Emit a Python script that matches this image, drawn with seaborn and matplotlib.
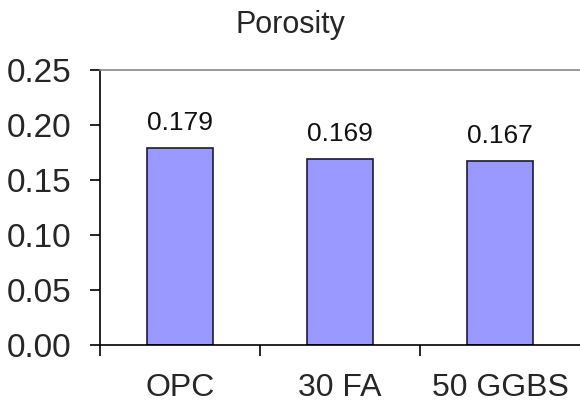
import matplotlib
matplotlib.use("Agg")
import matplotlib.pyplot as plt
import seaborn as sns
import pandas as pd
from matplotlib.ticker import FixedLocator

categories = ["OPC", "30 FA", "50 GGBS"]
porosity = [0.179, 0.169, 0.167]
bar_labels = ["0.179", "0.169", "0.167"]
yticks = [0.00, 0.05, 0.10, 0.15, 0.20, 0.25]

sns.set_style("white")
plt.rcParams["font.family"] = ["Liberation Sans", "DejaVu Sans"]

df = pd.DataFrame({"cat": categories, "val": porosity})

fig = plt.figure(figsize=(5.8, 4.11), dpi=100)
ax = fig.add_axes([0.1724, 0.1606, 0.8276, 0.6691])

sns.barplot(data=df, x="cat", y="val", ax=ax, color="#9999FF",
            saturation=1, width=0.41, edgecolor="#1a1a3a", linewidth=1.2)

ax.set_ylim(0, 0.25)
ax.set_xlim(-0.5, 2.5)
ax.set_yticks(yticks)
ax.set_yticklabels([f"{v:.2f}" for v in yticks], fontsize=24)
ax.set_xticks(range(len(categories)))
ax.set_xticklabels(categories, fontsize=23)
ax.tick_params(axis="x", which="major", length=0, pad=20)
ax.xaxis.set_minor_locator(FixedLocator([-0.5, 0.5, 1.5]))
ax.tick_params(axis="x", which="minor", length=8, width=1.2, direction="out", color="black", bottom=True)
ax.tick_params(axis="y", length=7.5, width=1.2, direction="out", color="black", left=True, pad=13)
ax.set_xlabel("")
ax.set_ylabel("")

for side in ["left", "bottom"]:
    ax.spines[side].set_color("black")
    ax.spines[side].set_linewidth(1.2)
ax.spines["right"].set_visible(False)
ax.spines["top"].set_color("#888888")
ax.spines["top"].set_linewidth(1.2)

for i, (v, lab) in enumerate(zip(porosity, bar_labels)):
    ax.text(i, v + 0.012, lab, ha="center", va="bottom", fontsize=19, color="#111111")

fig.text(0.5, 0.94, "Porosity", ha="center", va="center", fontsize=22)

fig.savefig("out.png", dpi=100)
